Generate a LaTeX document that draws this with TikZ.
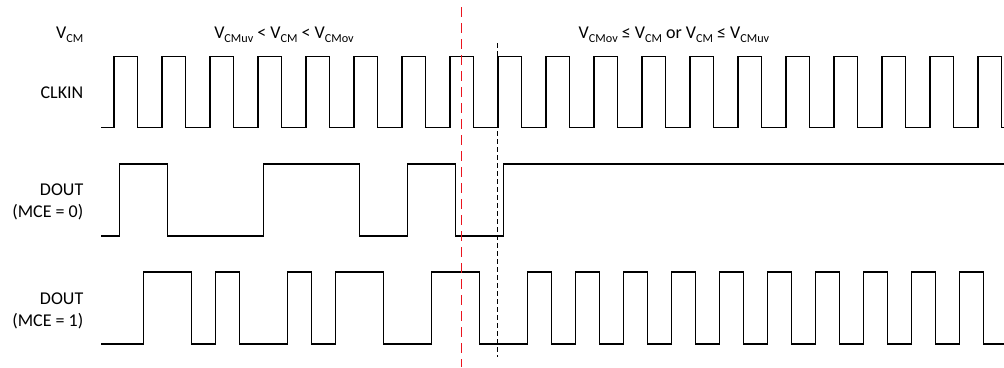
\documentclass[tikz,border=0pt]{standalone}
\usepackage{fontspec}
\setmainfont{Carlito}
\definecolor{mkred}{RGB}{235,20,30}
\newcommand{\sbx}[1]{\raisebox{-0.22em}{\fontsize{12.2}{12}\selectfont #1}}
\tikzset{
  sig/.style={line width=1.3pt,black,line join=miter},
  lbl/.style={inner sep=0pt,font=\fontsize{18}{22}\selectfont},
  reddashfill/.style={fill=mkred,draw=none},
  markblk/.style={line width=0.9pt,draw=black,dash pattern=on 5pt off 3pt}}
\begin{document}
\begin{tikzpicture}[x=1pt,y=-1pt]
\useasboundingbox (0,0) rectangle (1004,367);
% labels
\node[lbl,anchor=base east] (vcm) at (83.5,38.3) {V\sbx{CM}};
\node[lbl,anchor=base east] (clk) at (83.5,98.3) {CLKIN};
\node[lbl,anchor=base east] (d0a) at (83.5,195) {DOUT};
\node[lbl,anchor=base east] (d0b) at (83.5,217) {(MCE = 0)};
\node[lbl,anchor=base east] (d1a) at (83.5,304) {DOUT};
\node[lbl,anchor=base east] (d1b) at (83.5,326) {(MCE = 1)};
\node[lbl,anchor=base] (c1) at (284,38.3) {V\sbx{CMuv} < V\sbx{CM} < V\sbx{CMov}};
\node[lbl,anchor=base] (c2) at (674,38.3) {V\sbx{CMov} ≤ V\sbx{CM} or V\sbx{CM} ≤ V\sbx{CMuv}};
% CLKIN
\draw[sig] (101,127.7)
  \foreach \k in {0,...,18}{
    -- ({114+48*\k},127.7) -- ({114+48*\k},56.7) -- ({137.7+48*\k},56.7) -- ({137.7+48*\k},127.7)
  } -- (1004,127.7);
% DOUT MCE=0
\draw[sig] (101,236) -- (119.7,236) -- (119.7,164) -- (167.7,164) -- (167.7,236)
  -- (263.7,236) -- (263.7,164) -- (359.7,164) -- (359.7,236)
  -- (407.7,236) -- (407.7,164) -- (455.7,164) -- (455.7,236)
  -- (503.7,236) -- (503.7,164) -- (1004,164);
% DOUT MCE=1
\draw[sig] (101,344) -- (143.7,344) -- (143.7,272) -- (191.7,272) -- (191.7,344)
  -- (215.7,344) -- (215.7,272) -- (239.7,272) -- (239.7,344)
  -- (287.7,344) -- (287.7,272) -- (311.7,272) -- (311.7,344)
  -- (335.7,344) -- (335.7,272) -- (383.7,272) -- (383.7,344)
  -- (431.7,344) -- (431.7,272) -- (479.7,272) -- (479.7,344)
  \foreach \k in {0,...,9}{
    -- ({527.7+48*\k},344) -- ({527.7+48*\k},272) -- ({551.7+48*\k},272) -- ({551.7+48*\k},344)
  } -- (1004,344);
% markers
\coordinate (bt) at (497.7,43);
\coordinate (bb) at (497.7,357);
\draw[markblk] (bt) -- (bb);
\foreach \i in {0,...,22}{
  \fill[reddashfill] (460.6,{7+16*\i}) rectangle (462.4,{min(17+16*\i,367)});
}
\end{tikzpicture}
\end{document}
